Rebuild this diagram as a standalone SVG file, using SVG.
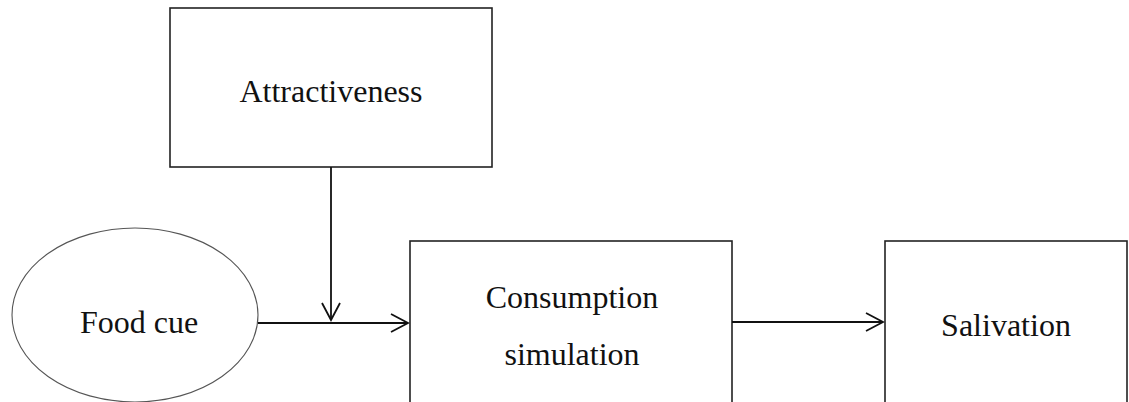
<svg xmlns="http://www.w3.org/2000/svg" width="1129" height="402" viewBox="0 0 1129 402">
<style>
.box{fill:#fff;stroke:#222;stroke-width:1.6}
.ell{fill:#fff;stroke:#555;stroke-width:1.1}
.lbl{font-family:"Liberation Serif","Times New Roman",serif;font-size:32px;fill:#111;text-anchor:middle}
.ln{fill:none;stroke:#111;stroke-width:1.8}
</style>
<rect width="1129" height="402" fill="#fff"/>
<g id="attractiveness">
<rect class="box" x="170" y="8" width="322" height="159"/>
<text class="lbl" x="331" y="102">Attractiveness</text>
</g>
<g id="food-cue">
<ellipse class="ell" cx="135" cy="315" rx="123" ry="87"/>
<text class="lbl" x="139" y="333">Food cue</text>
</g>
<g id="consumption-simulation">
<rect class="box" x="410" y="241" width="322" height="200"/>
<text class="lbl" x="572" y="308">Consumption</text>
<text class="lbl" x="572" y="365">simulation</text>
</g>
<g id="salivation">
<rect class="box" x="885" y="241" width="242" height="200"/>
<text class="lbl" x="1006" y="336">Salivation</text>
</g>
<g id="connectors">
<line class="ln" x1="331" y1="167" x2="331" y2="320"/>
<polyline class="ln" points="322,303 331,320 340,303"/>
<line class="ln" x1="258" y1="323" x2="408" y2="323"/>
<polyline class="ln" points="391,314 408,323 391,332"/>
<line class="ln" x1="732" y1="322" x2="883" y2="322"/>
<polyline class="ln" points="866,313 883,322 866,331"/>
</g>
</svg>
